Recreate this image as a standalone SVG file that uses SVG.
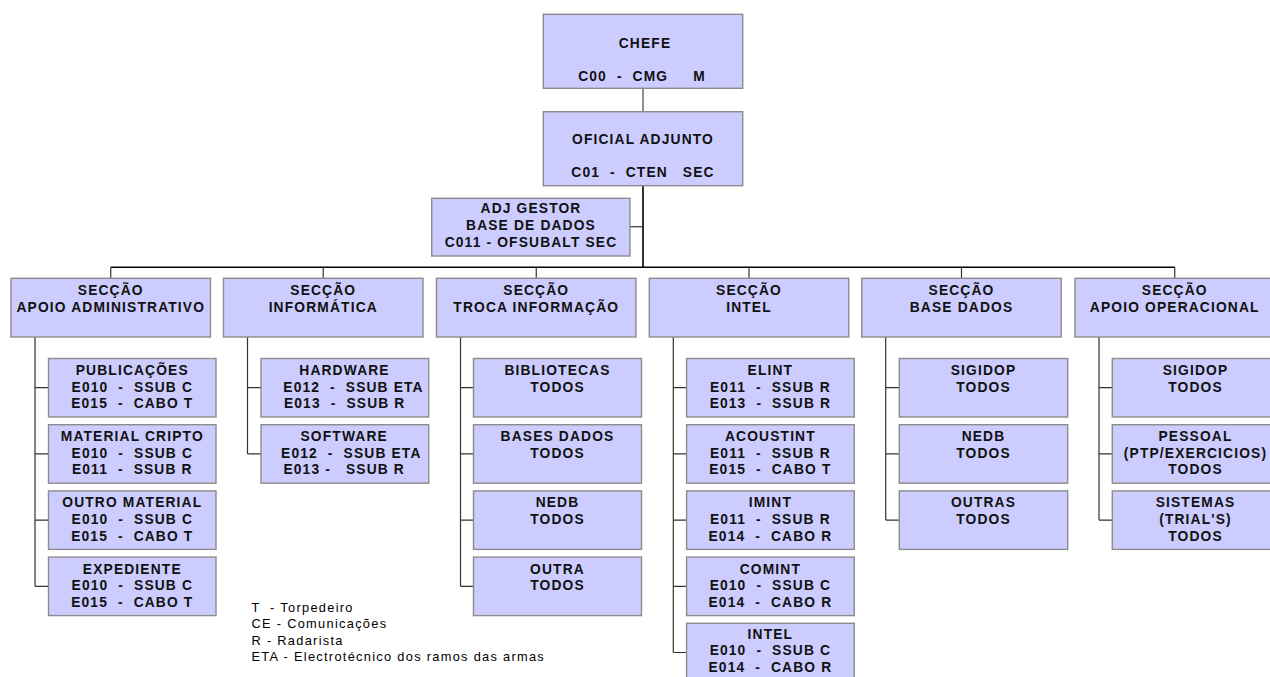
<svg xmlns="http://www.w3.org/2000/svg" width="1270" height="677" viewBox="0 0 1270 677">
  <style>
    .box{fill:#ccccff;stroke:#8c8c8c;stroke-width:1.4}
    .t{font-family:"Liberation Sans",Arial,sans-serif;font-weight:bold;font-size:13.8px;letter-spacing:1.15px;text-anchor:middle;fill:#111;white-space:pre}
    .lg{font-family:"Liberation Sans",Arial,sans-serif;font-size:12.8px;letter-spacing:1.3px;fill:#000;white-space:pre}
    .c{stroke:#333;stroke-width:1.2;fill:none}
    .bus{stroke:#000;stroke-width:1.6;fill:none}
    .top{stroke:#555;stroke-width:1.3;fill:none}
  </style>
  <rect width="1270" height="677" fill="#ffffff"/>

  <!-- connectors -->
  <g id="connectors">
    <path class="top" d="M643 88.5V111.7"/>
    <path class="bus" d="M643 186V267.3"/>
    <path class="c" d="M630 226.7H643"/>
    <path class="bus" d="M110.75 267.3H1174.75"/>
    <!-- drops to section headers -->
    <path class="c" d="M110.75 267.3V278.3M323.25 267.3V278.3M536.25 267.3V278.3M749 267.3V278.3M961.5 267.3V278.3M1174.75 267.3V278.3"/>
    <!-- section 1 -->
    <path class="c" d="M35 337V586.2M35 387.7H48.5M35 453.9H48.5M35 520.1H48.5M35 586.3H48.5"/>
    <!-- section 2 -->
    <path class="c" d="M247.5 337V453.9M247.5 387.7H261M247.5 453.9H261"/>
    <!-- section 3 -->
    <path class="c" d="M460.5 337V586.2M460.5 387.7H473.5M460.5 453.9H473.5M460.5 520.1H473.5M460.5 586.3H473.5"/>
    <!-- section 4 -->
    <path class="c" d="M673.3 337V652.5M673.3 387.7H686.6M673.3 453.9H686.6M673.3 520.1H686.6M673.3 586.3H686.6M673.3 652.5H686.6"/>
    <!-- section 5 -->
    <path class="c" d="M885.7 337V520.1M885.7 387.7H899.3M885.7 453.9H899.3M885.7 520.1H899.3"/>
    <!-- section 6 -->
    <path class="c" d="M1099 337V520.1M1099 387.7H1112.3M1099 453.9H1112.3M1099 520.1H1112.3"/>
  </g>

  <!-- command -->
  <g id="chefe">
    <rect class="box" x="543.3" y="14.3" width="199.4" height="74"/>
    <text class="t"><tspan x="645" y="48.3">CHEFE</tspan><tspan x="642" y="81">C00  -  CMG     M</tspan></text>
  </g>
  <g id="oficial-adjunto">
    <rect class="box" x="543.3" y="111.7" width="199.4" height="74"/>
    <text class="t"><tspan x="643" y="144.3">OFICIAL ADJUNTO</tspan><tspan x="643" y="176.7">C01  -  CTEN   SEC</tspan></text>
  </g>
  <g id="adj-gestor">
    <rect class="box" x="431.7" y="198.3" width="198.3" height="57.7"/>
    <text class="t"><tspan x="531" y="213.3">ADJ GESTOR</tspan><tspan x="531" y="230">BASE DE DADOS</tspan><tspan x="531" y="246.7">C011 - OFSUBALT SEC</tspan></text>
  </g>

  <!-- section headers -->
  <g id="sec-apoio-admin">
    <rect class="box" x="11" y="278.3" width="199.5" height="58.7"/>
    <text class="t"><tspan x="110.75" y="295">SECÇÃO</tspan><tspan x="110.75" y="311.7">APOIO ADMINISTRATIVO</tspan></text>
  </g>
  <g id="sec-informatica">
    <rect class="box" x="223.5" y="278.3" width="199.5" height="58.7"/>
    <text class="t"><tspan x="323.25" y="295">SECÇÃO</tspan><tspan x="323.25" y="311.7">INFORMÁTICA</tspan></text>
  </g>
  <g id="sec-troca">
    <rect class="box" x="436.5" y="278.3" width="199.5" height="58.7"/>
    <text class="t"><tspan x="536.25" y="295">SECÇÃO</tspan><tspan x="536.25" y="311.7">TROCA INFORMAÇÃO</tspan></text>
  </g>
  <g id="sec-intel">
    <rect class="box" x="649.3" y="278.3" width="199.5" height="58.7"/>
    <text class="t"><tspan x="749" y="295">SECÇÃO</tspan><tspan x="749" y="311.7">INTEL</tspan></text>
  </g>
  <g id="sec-base-dados">
    <rect class="box" x="861.7" y="278.3" width="199.5" height="58.7"/>
    <text class="t"><tspan x="961.5" y="295">SECÇÃO</tspan><tspan x="961.5" y="311.7">BASE DADOS</tspan></text>
  </g>
  <g id="sec-apoio-oper">
    <rect class="box" x="1075" y="278.3" width="199.5" height="58.7"/>
    <text class="t"><tspan x="1174.75" y="295">SECÇÃO</tspan><tspan x="1174.75" y="311.7">APOIO OPERACIONAL</tspan></text>
  </g>

  <!-- section 1 units -->
  <g id="publicacoes">
    <rect class="box" x="48.5" y="358.5" width="167.5" height="58.5"/>
    <text class="t"><tspan x="132.3" y="375">PUBLICAÇÕES</tspan><tspan x="132.3" y="391.6">E010  -  SSUB C</tspan><tspan x="132.3" y="408.2">E015  -  CABO T</tspan></text>
  </g>
  <g id="material-cripto">
    <rect class="box" x="48.5" y="424.7" width="167.5" height="58.5"/>
    <text class="t"><tspan x="132.3" y="441.2">MATERIAL CRIPTO</tspan><tspan x="132.3" y="457.8">E010  -  SSUB C</tspan><tspan x="132.3" y="474.4">E011  -  SSUB R</tspan></text>
  </g>
  <g id="outro-material">
    <rect class="box" x="48.5" y="490.9" width="167.5" height="58.5"/>
    <text class="t"><tspan x="132.3" y="507.4">OUTRO MATERIAL</tspan><tspan x="132.3" y="524">E010  -  SSUB C</tspan><tspan x="132.3" y="540.6">E015  -  CABO T</tspan></text>
  </g>
  <g id="expediente">
    <rect class="box" x="48.5" y="557.1" width="167.5" height="58.5"/>
    <text class="t"><tspan x="132.3" y="573.6">EXPEDIENTE</tspan><tspan x="132.3" y="590.2">E010  -  SSUB C</tspan><tspan x="132.3" y="606.8">E015  -  CABO T</tspan></text>
  </g>

  <!-- section 2 units -->
  <g id="hardware">
    <rect class="box" x="261" y="358.5" width="167.7" height="58.5"/>
    <text class="t"><tspan x="344.5" y="375">HARDWARE</tspan><tspan x="353.5" y="391.6">E012  -  SSUB ETA</tspan><tspan x="344.7" y="408.2">E013  -  SSUB R</tspan></text>
  </g>
  <g id="software">
    <rect class="box" x="261" y="424.7" width="167.7" height="58.5"/>
    <text class="t"><tspan x="344.2" y="441.2">SOFTWARE</tspan><tspan x="351.3" y="457.8">E012  -  SSUB ETA</tspan><tspan x="344.2" y="474.4">E013 -   SSUB R</tspan></text>
  </g>

  <!-- section 3 units -->
  <g id="bibliotecas">
    <rect class="box" x="473.5" y="358.5" width="168" height="58.5"/>
    <text class="t"><tspan x="557.5" y="375">BIBLIOTECAS</tspan><tspan x="557.5" y="391.6">TODOS</tspan></text>
  </g>
  <g id="bases-dados">
    <rect class="box" x="473.5" y="424.7" width="168" height="58.5"/>
    <text class="t"><tspan x="557.5" y="441.2">BASES DADOS</tspan><tspan x="557.5" y="457.8">TODOS</tspan></text>
  </g>
  <g id="nedb-troca">
    <rect class="box" x="473.5" y="490.9" width="168" height="58.5"/>
    <text class="t"><tspan x="557.5" y="507.4">NEDB</tspan><tspan x="557.5" y="524">TODOS</tspan></text>
  </g>
  <g id="outra">
    <rect class="box" x="473.5" y="557.1" width="168" height="58.5"/>
    <text class="t"><tspan x="557.5" y="573.6">OUTRA</tspan><tspan x="557.5" y="590.2">TODOS</tspan></text>
  </g>

  <!-- section 4 units -->
  <g id="elint">
    <rect class="box" x="686.6" y="358.5" width="167.7" height="58.5"/>
    <text class="t"><tspan x="770.4" y="375">ELINT</tspan><tspan x="770.4" y="391.6">E011  -  SSUB R</tspan><tspan x="770.4" y="408.2">E013  -  SSUB R</tspan></text>
  </g>
  <g id="acoustint">
    <rect class="box" x="686.6" y="424.7" width="167.7" height="58.5"/>
    <text class="t"><tspan x="770.4" y="441.2">ACOUSTINT</tspan><tspan x="770.4" y="457.8">E011  -  SSUB R</tspan><tspan x="770.4" y="474.4">E015  -  CABO T</tspan></text>
  </g>
  <g id="imint">
    <rect class="box" x="686.6" y="490.9" width="167.7" height="58.5"/>
    <text class="t"><tspan x="770.4" y="507.4">IMINT</tspan><tspan x="770.4" y="524">E011  -  SSUB R</tspan><tspan x="770.4" y="540.6">E014  -  CABO R</tspan></text>
  </g>
  <g id="comint">
    <rect class="box" x="686.6" y="557.1" width="167.7" height="58.5"/>
    <text class="t"><tspan x="770.4" y="573.6">COMINT</tspan><tspan x="770.4" y="590.2">E010  -  SSUB C</tspan><tspan x="770.4" y="606.8">E014  -  CABO R</tspan></text>
  </g>
  <g id="intel">
    <rect class="box" x="686.6" y="623.3" width="167.7" height="58.5"/>
    <text class="t"><tspan x="770.4" y="638.8">INTEL</tspan><tspan x="770.4" y="655.4">E010  -  SSUB C</tspan><tspan x="770.4" y="672">E014  -  CABO R</tspan></text>
  </g>

  <!-- section 5 units -->
  <g id="sigidop-bd">
    <rect class="box" x="899.3" y="358.5" width="168.4" height="58.5"/>
    <text class="t"><tspan x="983.5" y="375">SIGIDOP</tspan><tspan x="983.5" y="391.6">TODOS</tspan></text>
  </g>
  <g id="nedb-bd">
    <rect class="box" x="899.3" y="424.7" width="168.4" height="58.5"/>
    <text class="t"><tspan x="983.5" y="441.2">NEDB</tspan><tspan x="983.5" y="457.8">TODOS</tspan></text>
  </g>
  <g id="outras">
    <rect class="box" x="899.3" y="490.9" width="168.4" height="58.5"/>
    <text class="t"><tspan x="983.5" y="507.4">OUTRAS</tspan><tspan x="983.5" y="524">TODOS</tspan></text>
  </g>

  <!-- section 6 units -->
  <g id="sigidop-op">
    <rect class="box" x="1112.3" y="358.5" width="168" height="58.5"/>
    <text class="t"><tspan x="1195.5" y="375">SIGIDOP</tspan><tspan x="1195.5" y="391.6">TODOS</tspan></text>
  </g>
  <g id="pessoal">
    <rect class="box" x="1112.3" y="424.7" width="168" height="58.5"/>
    <text class="t"><tspan x="1195.5" y="441.2">PESSOAL</tspan><tspan x="1195.5" y="457.8">(PTP/EXERCICIOS)</tspan><tspan x="1195.5" y="474.4">TODOS</tspan></text>
  </g>
  <g id="sistemas">
    <rect class="box" x="1112.3" y="490.9" width="168" height="58.5"/>
    <text class="t"><tspan x="1195.5" y="507.4">SISTEMAS</tspan><tspan x="1195.5" y="524">(TRIAL'S)</tspan><tspan x="1195.5" y="540.6">TODOS</tspan></text>
  </g>

  <!-- legend -->
  <g id="legend">
    <text class="lg"><tspan x="251.5" y="611.5">T  - Torpedeiro</tspan><tspan x="251.5" y="628">CE - Comunicações</tspan><tspan x="251.5" y="644.5">R - Radarista</tspan><tspan x="251.5" y="661">ETA - Electrotécnico dos ramos das armas</tspan></text>
  </g>
</svg>
